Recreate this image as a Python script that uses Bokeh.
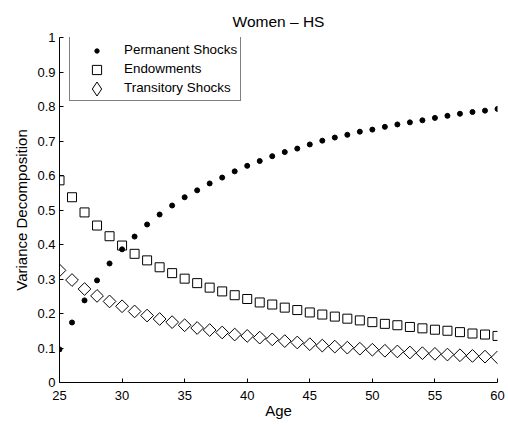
import numpy as np
from bokeh.plotting import figure
from bokeh.models import Legend, LegendItem, FixedTicker, Range1d
from bokeh.embed import file_html
from bokeh.resources import INLINE

ages = list(range(25, 61))
permanent = [0.096, 0.174, 0.238, 0.296, 0.345, 0.386, 0.423, 0.458, 0.487, 0.513,
             0.537, 0.557, 0.577, 0.594, 0.612, 0.628, 0.642, 0.656, 0.668, 0.678,
             0.690, 0.701, 0.710, 0.718, 0.727, 0.733, 0.741, 0.748, 0.754, 0.760,
             0.767, 0.773, 0.779, 0.784, 0.788, 0.793]
endowments = [0.586, 0.537, 0.493, 0.455, 0.424, 0.397, 0.373, 0.354, 0.334, 0.317,
              0.301, 0.288, 0.275, 0.264, 0.253, 0.242, 0.232, 0.226, 0.217, 0.210,
              0.203, 0.197, 0.191, 0.185, 0.180, 0.175, 0.170, 0.166, 0.161, 0.157,
              0.153, 0.150, 0.146, 0.142, 0.139, 0.135]
transitory = [0.325, 0.297, 0.271, 0.251, 0.235, 0.221, 0.206, 0.194, 0.184, 0.175,
              0.166, 0.158, 0.152, 0.145, 0.139, 0.135, 0.130, 0.125, 0.120, 0.116,
              0.111, 0.107, 0.104, 0.101, 0.098, 0.095, 0.092, 0.090, 0.087, 0.085,
              0.083, 0.081, 0.079, 0.077, 0.075, 0.073]

series_labels = ["Permanent Shocks", "Endowments", "Transitory Shocks"]
x_ticks = [25, 30, 35, 40, 45, 50, 55, 60]
y_ticks = [0, 0.1, 0.2, 0.3, 0.4, 0.5, 0.6, 0.7, 0.8, 0.9, 1]
y_tick_labels = ["0", "0.1", "0.2", "0.3", "0.4", "0.5", "0.6", "0.7", "0.8", "0.9", "1"]

FONT = "Liberation Sans"
W, H = 508, 424
BL, BR, BT, BB = 59, 11, 37, 42
FW, FH = W - BL - BR, H - BT - BB

p = figure(width=W, height=H, output_backend="svg", toolbar_location=None,
           x_range=Range1d(25, 60), y_range=Range1d(0, 1),
           title="Women \u2013 HS",
           min_border_left=BL, min_border_right=BR, min_border_top=BT, min_border_bottom=BB)

p.title.align = "center"
p.title.text_font = FONT
p.title.text_font_size = "15.5px"
p.title.text_font_style = "normal"
p.title.text_color = "black"
p.title.standoff = 16

p.grid.visible = False
p.outline_line_color = None

for ax in (p.xaxis[0], p.yaxis[0]):
    ax.major_label_text_font = FONT
    ax.major_label_text_font_size = "13px"
    ax.major_label_text_color = "black"
    ax.axis_label_text_font = FONT
    ax.axis_label_text_font_size = "15px"
    ax.axis_label_text_font_style = "normal"
    ax.axis_label_text_color = "black"
    ax.major_tick_in = 4
    ax.major_tick_out = 0
    ax.minor_tick_in = 0
    ax.minor_tick_out = 0
    ax.axis_line_color = "black"
    ax.major_tick_line_color = "black"

p.xaxis.ticker = FixedTicker(ticks=x_ticks)
p.yaxis.ticker = FixedTicker(ticks=y_ticks)
p.yaxis.major_label_overrides = {t: l for t, l in zip(y_ticks, y_tick_labels)}
p.xaxis.axis_label = "Age"
p.yaxis.axis_label = "Variance Decomposition"
p.xaxis.major_label_standoff = 8
p.yaxis.major_label_standoff = 4
p.xaxis.axis_label_standoff = -1
p.yaxis.axis_label_standoff = 4

r_perm = p.scatter(ages, permanent, marker="circle", size=5,
                   fill_color="black", line_color="black")
r_endo = p.scatter(ages, endowments, marker="square", size=9,
                   fill_color=None, line_color="black", line_width=1)
r_tran = p.scatter(ages, transitory, marker="square", size=9, angle=np.pi / 4,
                   fill_color=None, line_color="black", line_width=1)
# legend-only key glyph for the diamond (legend glyphs are drawn unrotated);
# it holds a single NaN point so nothing is drawn in the plot area
r_tran_key = p.scatter([np.nan], [np.nan], marker="diamond", size=14,
                       fill_color=None, line_color="black", line_width=1)
# invisible key glyph for the labelled, bordered legend box
r_blank = p.scatter([np.nan], [np.nan], marker="circle", size=1, fill_alpha=0, line_alpha=0)

# bordered legend box with labels
LEG_X, LEG_TOP = 10, 1          # offsets from frame top-left (px)
ROW_H, PAD, GW = 19, 3, 50
leg_h = 3 * ROW_H + 2 * PAD
main = Legend(items=[LegendItem(label=t, renderers=[r_blank]) for t in series_labels],
              location=(LEG_X, FH - LEG_TOP - leg_h))
main.label_text_font = FONT
main.label_text_font_size = "13.4px"
main.label_text_color = "black"
main.label_height = ROW_H
main.glyph_height = ROW_H
main.glyph_width = GW
main.label_standoff = 1
main.spacing = 0
main.padding = PAD
main.margin = 0
main.border_line_color = "black"
main.border_line_width = 1
main.background_fill_color = "white"
main.background_fill_alpha = 1.0
p.add_layout(main, "center")

# key glyphs, one small borderless legend each, so each keeps its own size
key_center_x = LEG_X + PAD + GW / 2
for i, (rend, box) in enumerate([(r_perm, 11), (r_endo, 23), (r_tran_key, 35)]):
    cy = LEG_TOP + PAD + ROW_H * i + ROW_H / 2
    k = Legend(items=[LegendItem(label=" ", renderers=[rend])],
               location=(int(round(key_center_x - box / 2)), int(round(FH - cy - box / 2))))
    k.glyph_width = box
    k.glyph_height = box
    k.label_height = 1
    k.label_standoff = 0
    k.label_text_font_size = "1px"
    k.padding = 0
    k.margin = 0
    k.spacing = 0
    k.border_line_color = None
    k.background_fill_alpha = 0
    p.add_layout(k, "center")

open("out.html", "w").write(file_html(p, INLINE))
